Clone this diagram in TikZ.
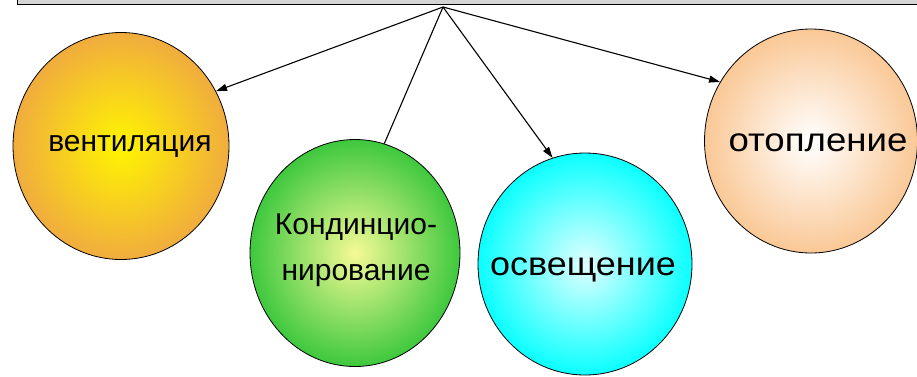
\documentclass[tikz,border=0pt]{standalone}
\usepackage{fontspec}
\setmainfont{Liberation Sans}
\usetikzlibrary{shapes.geometric,arrows.meta}
\definecolor{barfill}{RGB}{212,212,212}
\definecolor{ventin}{RGB}{255,245,0}
\definecolor{ventout}{RGB}{240,172,62}
\definecolor{grin}{RGB}{245,250,150}
\definecolor{grout}{RGB}{62,200,62}
\definecolor{cyin}{RGB}{225,255,255}
\definecolor{cyout}{RGB}{10,255,255}
\definecolor{pein}{RGB}{255,255,255}
\definecolor{peout}{RGB}{250,200,150}
\tikzset{
  bubble/.style={ellipse, draw=black, line width=0.8pt, inner sep=0pt},
  lbl/.style={font=\fontsize{30}{46}\selectfont, align=center, inner sep=0pt},
  biglbl/.style={font=\fontsize{33}{46}\selectfont, inner sep=0pt},
  conn/.style={line width=1.1pt, draw=black},
  arr/.style={conn, -{Triangle[length=11pt,width=7pt]}}
}
\begin{document}
\begin{tikzpicture}[x=1pt,y=-1pt]
\useasboundingbox (0,0) rectangle (917,376);
\begin{scope}
\clip (0,0) rectangle (917,376);
\node[draw=black, line width=1.3pt, fill=barfill, minimum width=920pt, minimum height=40pt, anchor=south west, inner sep=0pt] (bar) at (17,5) {};
\end{scope}
\coordinate (src) at (443,7);
\node[bubble, shading=radial, inner color=ventin, outer color=ventout, minimum width=216pt, minimum height=227pt] (vent) at (121,146) {};
\node[bubble, shading=radial, inner color=grin, outer color=grout, minimum width=210pt, minimum height=227pt] (cond) at (355,253) {};
\node[bubble, shading=radial, inner color=cyin, outer color=cyout, minimum width=214pt, minimum height=222pt] (light) at (585,264) {};
\node[bubble, shading=radial, inner color=pein, outer color=peout, minimum width=213pt, minimum height=224pt] (heat) at (811,141) {};
\node[lbl] (ventT) at (130,146) {вентиляция};
\node[lbl] (condT) at (356,250) {Кондинцио-\\нирование};
\node[biglbl] (lightT) at (583,270) {\scalebox{1.09}[1]{освещение}};
\node[biglbl] (heatT) at (818,143) {\scalebox{1.11}[1]{отопление}};
\draw[arr] (src) -- (vent.30);
\draw[conn] (src) -- (cond.75);
\draw[arr] (src) -- (light.107);
\draw[arr] (src) -- (heat.147);
\end{tikzpicture}
\end{document}
